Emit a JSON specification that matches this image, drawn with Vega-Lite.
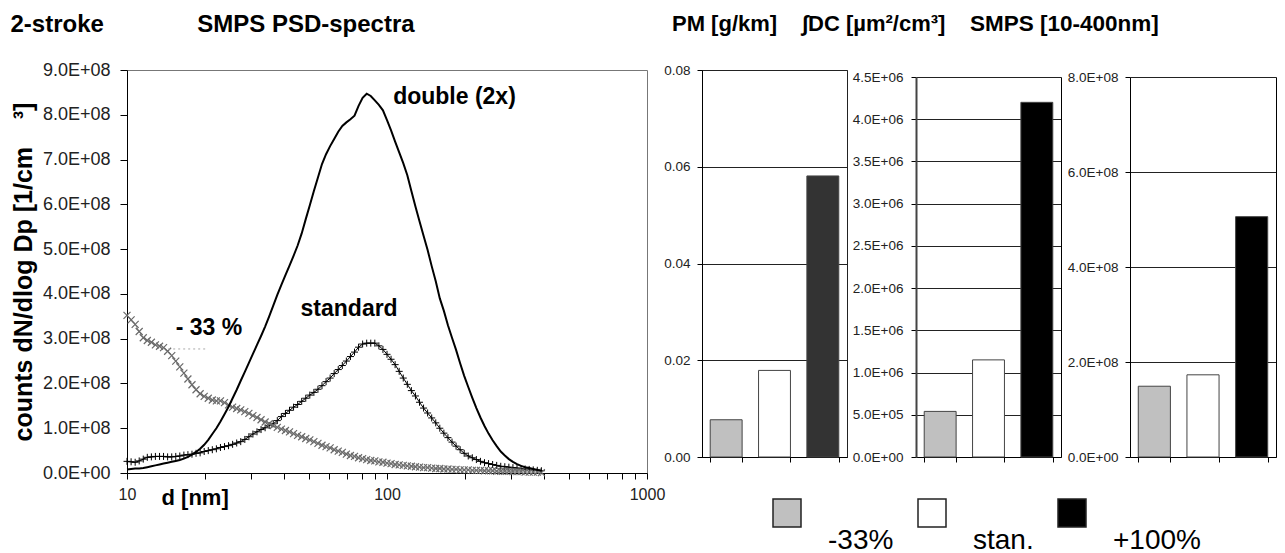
{
  "$schema": "https://vega.github.io/schema/vega-lite/v6.json",
  "background": "white",
  "padding": {"left": 10, "top": 12, "right": 5, "bottom": 0},
  "config": {
    "font": "Liberation Sans",
    "view": {"stroke": null},
    "axis": {"labelFont": "Liberation Sans", "titleFont": "Liberation Sans", "domainColor": "#000", "tickColor": "#000", "labelColor": "#222", "titleColor": "#000"},
    "title": {"font": "Liberation Sans", "color": "#000", "fontWeight": "bold"}
  },
  "datasets": {
    "psd": [
      {"d": 10.0, "dbl": 0.08e8, "std": 0.26e8, "m33": 3.52e8},
      {"d": 10.37, "dbl": 0.09e8, "std": 0.25e8, "m33": 3.42e8},
      {"d": 10.75, "dbl": 0.10e8, "std": 0.24e8, "m33": 3.32e8},
      {"d": 11.14, "dbl": 0.10e8, "std": 0.27e8, "m33": 3.16e8},
      {"d": 11.55, "dbl": 0.11e8, "std": 0.31e8, "m33": 3.02e8},
      {"d": 11.97, "dbl": 0.13e8, "std": 0.35e8, "m33": 2.96e8},
      {"d": 12.41, "dbl": 0.15e8, "std": 0.36e8, "m33": 2.92e8},
      {"d": 12.86, "dbl": 0.17e8, "std": 0.37e8, "m33": 2.86e8},
      {"d": 13.34, "dbl": 0.19e8, "std": 0.37e8, "m33": 2.83e8},
      {"d": 13.82, "dbl": 0.21e8, "std": 0.37e8, "m33": 2.80e8},
      {"d": 14.33, "dbl": 0.23e8, "std": 0.36e8, "m33": 2.72e8},
      {"d": 14.86, "dbl": 0.25e8, "std": 0.36e8, "m33": 2.62e8},
      {"d": 15.4, "dbl": 0.27e8, "std": 0.37e8, "m33": 2.50e8},
      {"d": 15.96, "dbl": 0.29e8, "std": 0.38e8, "m33": 2.37e8},
      {"d": 16.55, "dbl": 0.32e8, "std": 0.40e8, "m33": 2.23e8},
      {"d": 17.15, "dbl": 0.36e8, "std": 0.41e8, "m33": 2.10e8},
      {"d": 17.78, "dbl": 0.41e8, "std": 0.42e8, "m33": 1.97e8},
      {"d": 18.43, "dbl": 0.47e8, "std": 0.44e8, "m33": 1.86e8},
      {"d": 19.11, "dbl": 0.54e8, "std": 0.45e8, "m33": 1.77e8},
      {"d": 19.81, "dbl": 0.63e8, "std": 0.48e8, "m33": 1.71e8},
      {"d": 20.54, "dbl": 0.74e8, "std": 0.50e8, "m33": 1.67e8},
      {"d": 21.29, "dbl": 0.87e8, "std": 0.52e8, "m33": 1.63e8},
      {"d": 22.07, "dbl": 1.00e8, "std": 0.54e8, "m33": 1.61e8},
      {"d": 22.88, "dbl": 1.15e8, "std": 0.57e8, "m33": 1.61e8},
      {"d": 23.71, "dbl": 1.31e8, "std": 0.59e8, "m33": 1.57e8},
      {"d": 24.58, "dbl": 1.48e8, "std": 0.61e8, "m33": 1.52e8},
      {"d": 25.48, "dbl": 1.67e8, "std": 0.64e8, "m33": 1.47e8},
      {"d": 26.42, "dbl": 1.86e8, "std": 0.67e8, "m33": 1.44e8},
      {"d": 27.38, "dbl": 2.06e8, "std": 0.70e8, "m33": 1.41e8},
      {"d": 28.39, "dbl": 2.26e8, "std": 0.75e8, "m33": 1.37e8},
      {"d": 29.43, "dbl": 2.46e8, "std": 0.81e8, "m33": 1.33e8},
      {"d": 30.5, "dbl": 2.66e8, "std": 0.87e8, "m33": 1.28e8},
      {"d": 31.62, "dbl": 2.86e8, "std": 0.92e8, "m33": 1.24e8},
      {"d": 32.78, "dbl": 3.06e8, "std": 0.97e8, "m33": 1.19e8},
      {"d": 33.98, "dbl": 3.27e8, "std": 1.01e8, "m33": 1.14e8},
      {"d": 35.23, "dbl": 3.50e8, "std": 1.06e8, "m33": 1.10e8},
      {"d": 36.52, "dbl": 3.74e8, "std": 1.10e8, "m33": 1.06e8},
      {"d": 37.85, "dbl": 3.98e8, "std": 1.17e8, "m33": 1.02e8},
      {"d": 39.24, "dbl": 4.20e8, "std": 1.26e8, "m33": 0.98e8},
      {"d": 40.68, "dbl": 4.42e8, "std": 1.33e8, "m33": 0.95e8},
      {"d": 42.17, "dbl": 4.63e8, "std": 1.40e8, "m33": 0.92e8},
      {"d": 43.71, "dbl": 4.85e8, "std": 1.47e8, "m33": 0.88e8},
      {"d": 45.32, "dbl": 5.08e8, "std": 1.53e8, "m33": 0.84e8},
      {"d": 46.98, "dbl": 5.35e8, "std": 1.60e8, "m33": 0.81e8},
      {"d": 48.7, "dbl": 5.67e8, "std": 1.67e8, "m33": 0.77e8},
      {"d": 50.48, "dbl": 5.98e8, "std": 1.74e8, "m33": 0.74e8},
      {"d": 52.33, "dbl": 6.30e8, "std": 1.80e8, "m33": 0.70e8},
      {"d": 54.25, "dbl": 6.60e8, "std": 1.87e8, "m33": 0.66e8},
      {"d": 56.23, "dbl": 6.90e8, "std": 1.95e8, "m33": 0.62e8},
      {"d": 58.29, "dbl": 7.12e8, "std": 2.04e8, "m33": 0.59e8},
      {"d": 60.43, "dbl": 7.30e8, "std": 2.12e8, "m33": 0.56e8},
      {"d": 62.64, "dbl": 7.46e8, "std": 2.22e8, "m33": 0.52e8},
      {"d": 64.94, "dbl": 7.62e8, "std": 2.31e8, "m33": 0.49e8},
      {"d": 67.32, "dbl": 7.75e8, "std": 2.40e8, "m33": 0.46e8},
      {"d": 69.78, "dbl": 7.83e8, "std": 2.50e8, "m33": 0.42e8},
      {"d": 72.34, "dbl": 7.90e8, "std": 2.60e8, "m33": 0.39e8},
      {"d": 74.99, "dbl": 7.98e8, "std": 2.70e8, "m33": 0.37e8},
      {"d": 77.74, "dbl": 8.20e8, "std": 2.81e8, "m33": 0.34e8},
      {"d": 80.58, "dbl": 8.38e8, "std": 2.88e8, "m33": 0.32e8},
      {"d": 83.54, "dbl": 8.47e8, "std": 2.90e8, "m33": 0.30e8},
      {"d": 86.6, "dbl": 8.42e8, "std": 2.90e8, "m33": 0.28e8},
      {"d": 89.77, "dbl": 8.32e8, "std": 2.90e8, "m33": 0.27e8},
      {"d": 93.06, "dbl": 8.22e8, "std": 2.84e8, "m33": 0.25e8},
      {"d": 96.47, "dbl": 8.10e8, "std": 2.76e8, "m33": 0.24e8},
      {"d": 100.0, "dbl": 7.88e8, "std": 2.65e8, "m33": 0.22e8},
      {"d": 103.66, "dbl": 7.65e8, "std": 2.54e8, "m33": 0.21e8},
      {"d": 107.46, "dbl": 7.40e8, "std": 2.42e8, "m33": 0.19e8},
      {"d": 111.4, "dbl": 7.16e8, "std": 2.27e8, "m33": 0.18e8},
      {"d": 115.48, "dbl": 6.92e8, "std": 2.12e8, "m33": 0.17e8},
      {"d": 119.71, "dbl": 6.65e8, "std": 1.98e8, "m33": 0.16e8},
      {"d": 124.09, "dbl": 6.30e8, "std": 1.84e8, "m33": 0.15e8},
      {"d": 128.64, "dbl": 5.95e8, "std": 1.72e8, "m33": 0.14e8},
      {"d": 133.35, "dbl": 5.62e8, "std": 1.58e8, "m33": 0.13e8},
      {"d": 138.24, "dbl": 5.30e8, "std": 1.45e8, "m33": 0.12e8},
      {"d": 143.3, "dbl": 4.98e8, "std": 1.34e8, "m33": 0.12e8},
      {"d": 148.55, "dbl": 4.62e8, "std": 1.23e8, "m33": 0.11e8},
      {"d": 153.99, "dbl": 4.28e8, "std": 1.12e8, "m33": 0.10e8},
      {"d": 159.63, "dbl": 3.90e8, "std": 1.00e8, "m33": 0.10e8},
      {"d": 165.48, "dbl": 3.62e8, "std": 0.89e8, "m33": 0.09e8},
      {"d": 171.54, "dbl": 3.30e8, "std": 0.79e8, "m33": 0.09e8},
      {"d": 177.83, "dbl": 3.02e8, "std": 0.69e8, "m33": 0.08e8},
      {"d": 184.34, "dbl": 2.75e8, "std": 0.60e8, "m33": 0.08e8},
      {"d": 191.1, "dbl": 2.45e8, "std": 0.52e8, "m33": 0.07e8},
      {"d": 198.1, "dbl": 2.17e8, "std": 0.44e8, "m33": 0.07e8},
      {"d": 205.35, "dbl": 1.92e8, "std": 0.38e8, "m33": 0.07e8},
      {"d": 212.88, "dbl": 1.68e8, "std": 0.34e8, "m33": 0.06e8},
      {"d": 220.67, "dbl": 1.45e8, "std": 0.30e8, "m33": 0.06e8},
      {"d": 228.76, "dbl": 1.24e8, "std": 0.26e8, "m33": 0.06e8},
      {"d": 237.14, "dbl": 1.05e8, "std": 0.23e8, "m33": 0.05e8},
      {"d": 245.82, "dbl": 0.88e8, "std": 0.21e8, "m33": 0.05e8},
      {"d": 254.83, "dbl": 0.73e8, "std": 0.19e8, "m33": 0.05e8},
      {"d": 264.16, "dbl": 0.60e8, "std": 0.17e8, "m33": 0.04e8},
      {"d": 273.84, "dbl": 0.48e8, "std": 0.15e8, "m33": 0.04e8},
      {"d": 283.87, "dbl": 0.39e8, "std": 0.14e8, "m33": 0.04e8},
      {"d": 294.27, "dbl": 0.31e8, "std": 0.13e8, "m33": 0.04e8},
      {"d": 305.05, "dbl": 0.25e8, "std": 0.12e8, "m33": 0.03e8},
      {"d": 316.23, "dbl": 0.20e8, "std": 0.11e8, "m33": 0.03e8},
      {"d": 327.81, "dbl": 0.16e8, "std": 0.10e8, "m33": 0.03e8},
      {"d": 339.82, "dbl": 0.13e8, "std": 0.09e8, "m33": 0.02e8},
      {"d": 352.27, "dbl": 0.11e8, "std": 0.08e8, "m33": 0.02e8},
      {"d": 365.17, "dbl": 0.09e8, "std": 0.07e8, "m33": 0.02e8},
      {"d": 378.55, "dbl": 0.07e8, "std": 0.06e8, "m33": 0.02e8},
      {"d": 392.42, "dbl": 0.05e8, "std": 0.05e8, "m33": 0.01e8}
    ],
    "bars": [
      {"panel": "PM", "case": "-33%", "value": 0.0077},
      {"panel": "PM", "case": "stan.", "value": 0.0179},
      {"panel": "PM", "case": "+100%", "value": 0.0581},
      {"panel": "DC", "case": "-33%", "value": 5.4e5},
      {"panel": "DC", "case": "stan.", "value": 1.15e6},
      {"panel": "DC", "case": "+100%", "value": 4.2e6},
      {"panel": "SMPS", "case": "-33%", "value": 1.49e8},
      {"panel": "SMPS", "case": "stan.", "value": 1.73e8},
      {"panel": "SMPS", "case": "+100%", "value": 5.06e8}
    ]
  },
  "bounds": "flush",
  "spacing": 55,
  "resolve": {"scale": {"x": "independent", "y": "independent", "fill": "independent"}},
  "hconcat": [
    {
      "width": 520,
      "height": 403,
      "view": {"stroke": "#777"},
      "title": {"text": "2-stroke\u00a0\u00a0\u00a0\u00a0\u00a0\u00a0\u00a0\u00a0\u00a0\u00a0\u00a0\u00a0\u00a0\u00a0SMPS PSD-spectra", "anchor": "start", "frame": "group", "dx": -116.5, "offset": 5, "baseline": "alphabetic", "fontSize": 24, "fontWeight": "bold"},
      "data": {"name": "psd"},
      "encoding": {
        "x": {"field": "d", "type": "quantitative",
          "scale": {"type": "log", "domain": [10, 1000]},
          "axis": {"values": [10, 20, 30, 40, 50, 60, 70, 80, 90, 100, 200, 300, 400, 500, 600, 700, 800, 900, 1000],
            "labelExpr": "datum.value == 10 || datum.value == 100 || datum.value == 1000 ? '' + datum.value : ''",
            "labelOverlap": false, "labelFlush": false, "labelFontSize": 16, "labelPadding": 7, "tickSize": 6, "grid": false,
            "title": "d [nm]", "titleFontSize": 22, "titleFontWeight": "bold", "titleX": 34, "titleY": 24, "titleAlign": "left", "titleBaseline": "middle"}},
        "y": {"field": "value", "type": "quantitative", "scale": {"domain": [0, 9e8]},
          "axis": {"values": [0, 1e8, 2e8, 3e8, 4e8, 5e8, 6e8, 7e8, 8e8, 9e8],
            "labelExpr": "replace(upper(format(datum.value, '.1e')), 'E+', 'E+0')",
            "labelFontSize": 18, "tickSize": 7, "labelPadding": 10, "grid": false,
            "title": "counts dN/dlog Dp [1/cm\u00a0\u00a0\u00a0\u00a0³]", "titleFontSize": 25, "titleFontWeight": "bold", "titlePadding": 6, "titleLimit": 600}}
      },
      "layer": [
        {"transform": [{"fold": ["std"], "as": ["series", "value"]}],
          "mark": {"type": "line", "color": "#000", "strokeWidth": 1}},
        {"transform": [{"fold": ["std"], "as": ["series", "value"]}],
          "mark": {"type": "point", "shape": "M-1,0H1M0,-1V1", "size": 49, "filled": false, "stroke": "#000", "strokeWidth": 1, "opacity": 1}},
        {"transform": [{"fold": ["m33"], "as": ["series", "value"]}],
          "mark": {"type": "line", "color": "#8a8a8a", "strokeWidth": 1}},
        {"transform": [{"fold": ["m33"], "as": ["series", "value"]}],
          "mark": {"type": "point", "shape": "M-1,-1L1,1M-1,1L1,-1", "size": 49, "filled": false, "stroke": "#6a6a6a", "strokeWidth": 1.2, "opacity": 1}},
        {"transform": [{"fold": ["dbl"], "as": ["series", "value"]}],
          "mark": {"type": "line", "color": "#000", "strokeWidth": 2}},
        {"data": {"values": [{"d": 14.4, "d2": 20.4, "value": 2.77e8}]},
          "mark": {"type": "rule", "color": "#aaa", "strokeDash": [2, 3], "strokeWidth": 1},
          "encoding": {"x2": {"field": "d2"}}},
        {"data": {"values": [
            {"label": "double (2x)", "d": 105.6, "value": 8.4e8},
            {"label": "standard", "d": 46.5, "value": 3.67e8},
            {"label": "- 33 %", "d": 15.4, "value": 3.23e8}]},
          "mark": {"type": "text", "align": "left", "baseline": "middle", "fontSize": 23, "fontWeight": "bold", "font": "Liberation Sans", "color": "#000"},
          "encoding": {"text": {"field": "label"}}}
      ]
    },
    {
      "bounds": "flush",
      "spacing": 69,
      "resolve": {"scale": {"x": "independent", "y": "independent", "fill": "independent"}},
      "hconcat": [
        {
          "width": 145,
          "height": 387,
          "view": {"stroke": "#222"},
          "title": {"text": "PM [g/km]", "anchor": "start", "frame": "group", "dx": -30, "offset": 10, "baseline": "alphabetic", "fontSize": 22, "fontWeight": "bold"},
          "data": {"name": "bars"},
          "transform": [{"filter": "datum.panel === 'PM'"}],
          "mark": {"type": "bar", "stroke": "#444", "strokeWidth": 1},
          "encoding": {
            "x": {"field": "case", "type": "nominal", "sort": ["-33%", "stan.", "+100%"],
              "scale": {"paddingInner": 0.34, "paddingOuter": 0.17},
              "axis": {"labels": false, "title": null, "tickBand": "extent", "tickSize": 5, "domainColor": "#000"}},
            "y": {"field": "value", "type": "quantitative", "scale": {"domain": [0, 0.08]},
              "axis": {"values": [0, 0.02, 0.04, 0.06, 0.08], "format": ".2f", "title": null, "grid": true, "gridColor": "#222", "gridOpacity": 1,
                "tickSize": 5, "labelPadding": 7, "labelFontSize": 13.5, "labelFont": "Liberation Sans", "domainColor": "#000"}},
            "fill": {"field": "case", "type": "nominal",
              "scale": {"domain": ["-33%", "stan.", "+100%"], "range": ["#c0c0c0", "#ffffff", "#333333"]}, "legend": null}
          }
        },
        {
          "width": 145,
          "height": 387,
          "title": {"text": "∫DC [µm²/cm³]", "anchor": "start", "frame": "group", "dx": -114, "offset": 17, "baseline": "alphabetic", "fontSize": 22, "fontWeight": "bold"},
          "data": {"name": "bars"},
          "transform": [{"filter": "datum.panel === 'DC'"}],
          "encoding": {
            "x": {"field": "case", "type": "nominal", "sort": ["-33%", "stan.", "+100%"],
              "scale": {"paddingInner": 0.34, "paddingOuter": 0.17},
              "axis": {"labels": false, "title": null, "tickBand": "extent", "tickSize": 5, "domainColor": "#000"}}
          },
          "layer": [
            {"mark": {"type": "bar", "stroke": "#444", "strokeWidth": 1},
              "encoding": {
                "y": {"field": "value", "type": "quantitative", "scale": {"domain": [0, 4.5e6], "range": [387, 7]},
                  "axis": {"values": [0, 5e5, 1e6, 1.5e6, 2e6, 2.5e6, 3e6, 3.5e6, 4e6, 4.5e6],
                    "labelExpr": "replace(upper(format(datum.value, '.1e')), 'E+', 'E+0')",
                    "title": null, "grid": true, "gridColor": "#222", "gridOpacity": 1,
                    "tickSize": 5, "labelPadding": 8, "labelFontSize": 13.5, "labelFont": "Liberation Sans", "domainColor": "#444", "domainWidth": 2}},
                "fill": {"field": "case", "type": "nominal",
                  "scale": {"domain": ["-33%", "stan.", "+100%"], "range": ["#c0c0c0", "#ffffff", "#000000"]}, "legend": null}
              }},
            {"mark": {"type": "bar", "opacity": 0},
              "encoding": {
                "y": {"field": "value", "type": "quantitative", "scale": {"domain": [0, 4.5e6], "range": [387, 7]},
                  "axis": {"orient": "right", "labels": false, "ticks": false, "grid": false, "domain": true, "domainColor": "#000", "title": null}}
              }}
          ],
          "resolve": {"axis": {"y": "independent"}}
        },
        {
          "width": 146,
          "height": 387,
          "title": {"text": "SMPS [10-400nm]", "anchor": "start", "frame": "group", "dx": -160, "offset": 17, "baseline": "alphabetic", "fontSize": 22.5, "fontWeight": "bold"},
          "data": {"name": "bars"},
          "transform": [{"filter": "datum.panel === 'SMPS'"}],
          "encoding": {
            "x": {"field": "case", "type": "nominal", "sort": ["-33%", "stan.", "+100%"],
              "scale": {"paddingInner": 0.34, "paddingOuter": 0.17},
              "axis": {"labels": false, "title": null, "tickBand": "extent", "tickSize": 5, "domainColor": "#000"}}
          },
          "layer": [
            {"mark": {"type": "bar", "stroke": "#444", "strokeWidth": 1},
              "encoding": {
                "y": {"field": "value", "type": "quantitative", "scale": {"domain": [0, 8e8], "range": [387, 7]},
                  "axis": {"values": [0, 2e8, 4e8, 6e8, 8e8],
                    "labelExpr": "replace(upper(format(datum.value, '.1e')), 'E+', 'E+0')",
                    "title": null, "grid": true, "gridColor": "#222", "gridOpacity": 1,
                    "tickSize": 5, "labelPadding": 7, "labelFontSize": 13.5, "labelFont": "Liberation Sans", "domainColor": "#000"}},
                "fill": {"field": "case", "type": "nominal",
                  "scale": {"domain": ["-33%", "stan.", "+100%"], "range": ["#c0c0c0", "#ffffff", "#000000"]},
                  "legend": {"orient": "none", "legendX": -358, "legendY": 442, "direction": "horizontal", "title": null,
                    "symbolType": "M-1,-2H1V0H-1Z", "symbolSize": 784, "symbolStrokeColor": "#222", "symbolStrokeWidth": 1.5, "symbolOpacity": 1,
                    "labelFontSize": 28, "labelFont": "Liberation Sans", "labelColor": "#000", "labelBaseline": "top", "labelOffset": 26,
                    "columnPadding": 21, "padding": 0, "offset": 0, "labelLimit": 300}}
              }},
            {"mark": {"type": "bar", "opacity": 0},
              "encoding": {
                "y": {"field": "value", "type": "quantitative", "scale": {"domain": [0, 8e8], "range": [387, 7]},
                  "axis": {"orient": "right", "labels": false, "ticks": false, "grid": false, "domain": true, "domainColor": "#000", "title": null}}
              }}
          ],
          "resolve": {"axis": {"y": "independent"}}
        }
      ]
    }
  ]
}
